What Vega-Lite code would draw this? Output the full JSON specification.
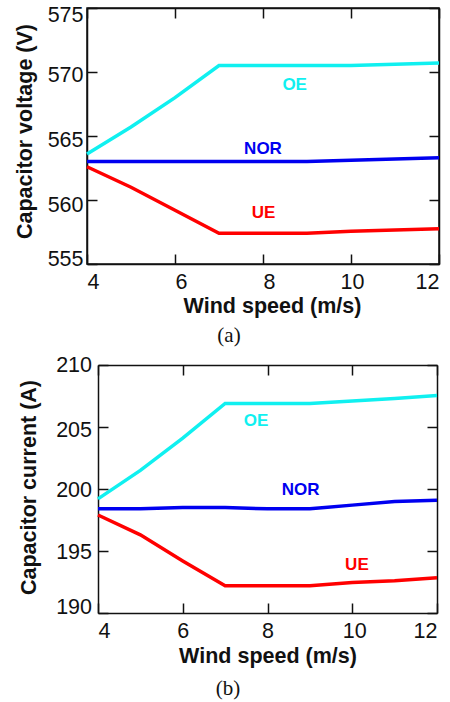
{
  "$schema": "https://vega.github.io/schema/vega-lite/v6.json",
  "background": "white",
  "padding": {"left": 13, "top": 3, "right": 3, "bottom": 3},
  "spacing": 7,
  "config": {
    "font": "Liberation Sans",
    "view": {"stroke": "#111111", "strokeWidth": 1.5},
    "axis": {
      "grid": false,
      "ticks": true,
      "domainColor": "#111111",
      "domainWidth": 1.5,
      "tickColor": "#111111",
      "tickWidth": 1.5,
      "tickSize": -10,
      "labelFont": "Liberation Sans",
      "labelFontSize": 21.5,
      "labelColor": "#111111",
      "titleFont": "Liberation Sans",
      "titleFontSize": 21.5,
      "titleFontWeight": "bold",
      "titleColor": "#111111"
    }
  },
  "datasets": {
    "voltage": [
      {"wind": 4, "series": "OE", "value": 563.6},
      {"wind": 5, "series": "OE", "value": 565.7},
      {"wind": 6, "series": "OE", "value": 568.0},
      {"wind": 7, "series": "OE", "value": 570.5},
      {"wind": 8, "series": "OE", "value": 570.5},
      {"wind": 9, "series": "OE", "value": 570.5},
      {"wind": 10, "series": "OE", "value": 570.5},
      {"wind": 11, "series": "OE", "value": 570.6},
      {"wind": 12, "series": "OE", "value": 570.7},
      {"wind": 4, "series": "NOR", "value": 563.0},
      {"wind": 5, "series": "NOR", "value": 563.0},
      {"wind": 6, "series": "NOR", "value": 563.0},
      {"wind": 7, "series": "NOR", "value": 563.0},
      {"wind": 8, "series": "NOR", "value": 563.0},
      {"wind": 9, "series": "NOR", "value": 563.0},
      {"wind": 10, "series": "NOR", "value": 563.1},
      {"wind": 11, "series": "NOR", "value": 563.2},
      {"wind": 12, "series": "NOR", "value": 563.3},
      {"wind": 4, "series": "UE", "value": 562.6},
      {"wind": 5, "series": "UE", "value": 561.0},
      {"wind": 6, "series": "UE", "value": 559.2},
      {"wind": 7, "series": "UE", "value": 557.4},
      {"wind": 8, "series": "UE", "value": 557.4},
      {"wind": 9, "series": "UE", "value": 557.4},
      {"wind": 10, "series": "UE", "value": 557.55},
      {"wind": 11, "series": "UE", "value": 557.65},
      {"wind": 12, "series": "UE", "value": 557.75}
    ],
    "vlabels": [
      {"wind": 8.72, "series": "OE", "value": 569.0, "label": "OE"},
      {"wind": 8.0, "series": "NOR", "value": 564.0, "label": "NOR"},
      {"wind": 8.01, "series": "UE", "value": 558.95, "label": "UE"}
    ],
    "current": [
      {"wind": 4, "series": "OE", "value": 199.2},
      {"wind": 5, "series": "OE", "value": 201.5},
      {"wind": 6, "series": "OE", "value": 204.1},
      {"wind": 7, "series": "OE", "value": 206.9},
      {"wind": 8, "series": "OE", "value": 206.9},
      {"wind": 9, "series": "OE", "value": 206.9},
      {"wind": 10, "series": "OE", "value": 207.1},
      {"wind": 11, "series": "OE", "value": 207.3},
      {"wind": 12, "series": "OE", "value": 207.55},
      {"wind": 4, "series": "NOR", "value": 198.4},
      {"wind": 5, "series": "NOR", "value": 198.4},
      {"wind": 6, "series": "NOR", "value": 198.5},
      {"wind": 7, "series": "NOR", "value": 198.5},
      {"wind": 8, "series": "NOR", "value": 198.4},
      {"wind": 9, "series": "NOR", "value": 198.4},
      {"wind": 10, "series": "NOR", "value": 198.7},
      {"wind": 11, "series": "NOR", "value": 199.0},
      {"wind": 12, "series": "NOR", "value": 199.1},
      {"wind": 4, "series": "UE", "value": 197.9},
      {"wind": 5, "series": "UE", "value": 196.3},
      {"wind": 6, "series": "UE", "value": 194.2},
      {"wind": 7, "series": "UE", "value": 192.2},
      {"wind": 8, "series": "UE", "value": 192.2},
      {"wind": 9, "series": "UE", "value": 192.2},
      {"wind": 10, "series": "UE", "value": 192.45},
      {"wind": 11, "series": "UE", "value": 192.6},
      {"wind": 12, "series": "UE", "value": 192.85}
    ],
    "clabels": [
      {"wind": 7.73, "series": "OE", "value": 205.45, "label": "OE"},
      {"wind": 8.78, "series": "NOR", "value": 199.9, "label": "NOR"},
      {"wind": 10.11, "series": "UE", "value": 193.9, "label": "UE"}
    ]
  },
  "vconcat": [
    {
      "width": 352,
      "height": 256,
      "title": {"text": "(a)", "orient": "bottom", "font": "Liberation Serif", "fontSize": 21, "fontWeight": "normal", "color": "#111111", "dx": -34, "offset": 8},
      "layer": [
        {
          "data": {"name": "voltage"},
          "mark": {"type": "line", "strokeWidth": 3.5},
          "encoding": {
            "x": {"field": "wind", "type": "quantitative",
                  "scale": {"domain": [4, 12], "nice": false, "zero": false},
                  "axis": {"values": [4, 6, 8, 10, 12], "title": "Wind speed (m/s)", "tickSize": -10, "labelPadding": 17, "titlePadding": 3, "titleX": 185,
                           "labelOffset": {"condition": [{"test": "datum.value == 6 || datum.value == 8", "value": 6}, {"test": "datum.value == 10", "value": 1}], "value": 0}}},
            "y": {"field": "value", "type": "quantitative",
                  "scale": {"domain": [555, 575], "nice": false, "zero": false},
                  "axis": {"values": [555, 560, 565, 570, 575], "title": "Capacitor voltage (V)", "tickSize": -10, "labelPadding": 14, "titlePadding": 11, "titleY": 123,
                           "labelOffset": {"condition": [{"test": "datum.value == 575", "value": 7}, {"test": "datum.value == 570", "value": 3}, {"test": "datum.value == 565", "value": 4}, {"test": "datum.value == 560", "value": 5}, {"test": "datum.value == 555", "value": -5}], "value": 0}}},
            "color": {"field": "series", "type": "nominal", "scale": {"domain": ["OE", "NOR", "UE"], "range": ["#10F0F0", "#0000F0", "#FF0000"]}, "legend": null}
          }
        },
        {
          "data": {"name": "vlabels"},
          "mark": {"type": "text", "fontWeight": "bold", "fontSize": 17, "font": "Liberation Sans"},
          "encoding": {
            "x": {"field": "wind", "type": "quantitative", "axis": {"orient": "top", "labels": false, "title": null, "tickSize": -10, "values": [4, 6, 8, 10, 12]}},
            "y": {"field": "value", "type": "quantitative", "axis": {"orient": "right", "labels": false, "title": null, "tickSize": -10, "values": [555, 560, 565, 570, 575]}},
            "text": {"field": "label"},
            "color": {"field": "series", "type": "nominal", "legend": null}
          }
        }
      ],
      "resolve": {"axis": {"x": "independent", "y": "independent"}}
    },
    {
      "width": 350,
      "height": 248,
      "view": {"stroke": null},
      "title": {"text": "(b)", "orient": "bottom", "font": "Liberation Serif", "fontSize": 21, "fontWeight": "normal", "color": "#111111", "dx": -34, "offset": 11},
      "layer": [
        {
          "data": {"name": "current"},
          "mark": {"type": "line", "strokeWidth": 3.5},
          "encoding": {
            "x": {"field": "wind", "type": "quantitative",
                  "scale": {"domain": [4, 12], "range": [11, 350], "nice": false, "zero": false},
                  "axis": {"values": [4, 6, 8, 10, 12], "title": "Wind speed (m/s)", "tickSize": -10, "labelPadding": 17, "titlePadding": 3.5,
                           "labelOffset": {"condition": [{"test": "datum.value == 10", "value": 2}], "value": 0}}},
            "y": {"field": "value", "type": "quantitative",
                  "scale": {"domain": [190, 210], "nice": false, "zero": false},
                  "axis": {"values": [190, 195, 200, 205, 210], "title": "Capacitor current (A)", "offset": -11, "tickSize": -10, "labelPadding": 16.5, "titlePadding": 15, "titleY": 122,
                           "labelOffset": {"condition": [{"test": "datum.value == 205", "value": 3}, {"test": "datum.value == 200 || datum.value == 195", "value": 1}, {"test": "datum.value == 190", "value": -6}], "value": 0}}},
            "color": {"field": "series", "type": "nominal", "scale": {"domain": ["OE", "NOR", "UE"], "range": ["#10F0F0", "#0000F0", "#FF0000"]}, "legend": null}
          }
        },
        {
          "data": {"name": "clabels"},
          "mark": {"type": "text", "fontWeight": "bold", "fontSize": 17, "font": "Liberation Sans"},
          "encoding": {
            "x": {"field": "wind", "type": "quantitative", "axis": {"orient": "top", "labels": false, "title": null, "tickSize": -10, "values": [4, 6, 8, 10, 12]}},
            "y": {"field": "value", "type": "quantitative", "axis": {"orient": "right", "labels": false, "title": null, "tickSize": -10, "values": [190, 195, 200, 205, 210]}},
            "text": {"field": "label"},
            "color": {"field": "series", "type": "nominal", "legend": null}
          }
        }
      ],
      "resolve": {"axis": {"x": "independent", "y": "independent"}}
    }
  ]
}
